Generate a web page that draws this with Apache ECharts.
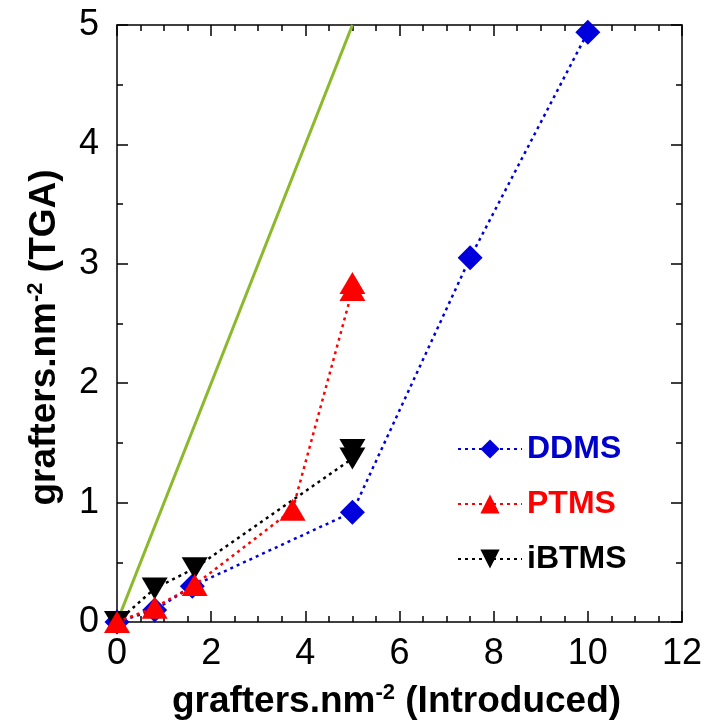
<!DOCTYPE html>
<html>
<head>
<meta charset="utf-8">
<script src="https://cdn.jsdelivr.net/npm/echarts@6/dist/echarts.min.js"></script>
<style>
  html, body { margin: 0; padding: 0; background: #fff; }
  #chart { width: 705px; height: 728px; }
</style>
</head>
<body>
<div id="chart"></div>
<script>
// values
const xTicks = [0, 2, 4, 6, 8, 10, 12]
const yTicks = [0, 1, 2, 3, 4, 5]

const ideal = [[0, 0], [5, 5]]
const ddms = [[0, 0], [0.8, 0.1], [1.6, 0.3], [5, 0.92], [7.5, 3.05], [10, 4.94]]
const ptms = [[0, 0], [0.8, 0.12], [1.65, 0.31], [3.73, 0.94], [5, 2.78], [5, 2.84]]
const ibtms = [[0, 0], [0.8, 0.28], [1.65, 0.45], [5, 1.37], [5, 1.44]]

const font = 'Liberation Sans, Arial, sans-serif'

const chart = echarts.init(document.getElementById('chart'))

const axisCommon = {
  type: 'value',
  axisLine: { show: true, onZero: false, lineStyle: { color: '#000', width: 1.5 } },
  axisTick: { show: true, inside: true, length: 11, lineStyle: { color: '#000', width: 1.5 } },
  minorTick: { show: true, length: 6, lineStyle: { color: '#000', width: 1.5 } },
  splitLine: { show: false }
}

const titleRich = {
  t: { fontFamily: font, fontWeight: 'bold', fontSize: 37, color: '#000' },
  s: { fontFamily: font, fontWeight: 'bold', fontSize: 22, color: '#000', verticalAlign: 'top', padding: [0, 0, 18, 0] }
}

const option = {
  animation: false,
  grid: { left: 117, right: 20, top: 25, bottom: 106 },
  legend: {
    orient: 'vertical',
    left: 452,
    top: 428,
    itemGap: 23,
    itemWidth: 64,
    itemHeight: 24,
    data: [
      { name: 'DDMS', textStyle: { color: '#0000cc' } },
      { name: 'PTMS', textStyle: { color: '#ff0000' } },
      { name: 'iBTMS', textStyle: { color: '#000' } }
    ],
    textStyle: { fontFamily: font, fontWeight: 'bold', fontSize: 32 }
  },
  xAxis: [
    {
      ...axisCommon,
      min: 0, max: 12, interval: 2,
      minorTick: { ...axisCommon.minorTick, splitNumber: 4 },
      axisLabel: { margin: 14, fontFamily: font, fontSize: 36, color: '#000' },
      name: '{t|grafters.nm}{s|-2}{t| (Introduced)}',
      nameLocation: 'middle',
      nameGap: 60,
      nameTextStyle: { rich: titleRich, padding: [0, 6, 0, 0] }
    },
    {
      ...axisCommon,
      position: 'top',
      min: 0, max: 12, interval: 2,
      minorTick: { ...axisCommon.minorTick, splitNumber: 4 },
      axisLabel: { show: false }
    }
  ],
  yAxis: [
    {
      ...axisCommon,
      min: 0, max: 5, interval: 1,
      minorTick: { ...axisCommon.minorTick, splitNumber: 2 },
      axisLabel: { margin: 18, fontFamily: font, fontSize: 36, color: '#000' },
      name: '{t|grafters.nm}{s|-2}{t| (TGA)}',
      nameLocation: 'middle',
      nameGap: 52,
      nameTextStyle: { rich: titleRich, padding: [0, 28, 0, 0] }
    },
    {
      ...axisCommon,
      position: 'right',
      min: 0, max: 5, interval: 1,
      minorTick: { ...axisCommon.minorTick, splitNumber: 2 },
      axisLabel: { show: false }
    }
  ],
  series: [
    {
      name: 'ideal',
      type: 'line',
      data: ideal,
      symbol: 'none',
      lineStyle: { color: '#8cb82b', width: 3 },
      z: 1
    },
    {
      name: 'DDMS',
      type: 'line',
      data: ddms,
      symbol: 'diamond',
      symbolSize: 25,
      itemStyle: { color: '#0000dd' },
      lineStyle: { color: '#0000dd', width: 2.5, type: [3, 4] },
      z: 2
    },
    {
      name: 'iBTMS',
      type: 'line',
      data: ibtms,
      symbol: 'triangle',
      symbolRotate: 180,
      symbolSize: [26, 22],
      itemStyle: { color: '#000' },
      lineStyle: { color: '#000', width: 2.5, type: [3, 4] },
      z: 3
    },
    {
      name: 'PTMS',
      type: 'line',
      data: ptms,
      symbol: 'triangle',
      symbolSize: [26, 22],
      itemStyle: { color: '#ff0000' },
      lineStyle: { color: '#ff0000', width: 2.5, type: [3, 4] },
      z: 4
    }
  ]
}

chart.setOption(option)
</script>
</body>
</html>
